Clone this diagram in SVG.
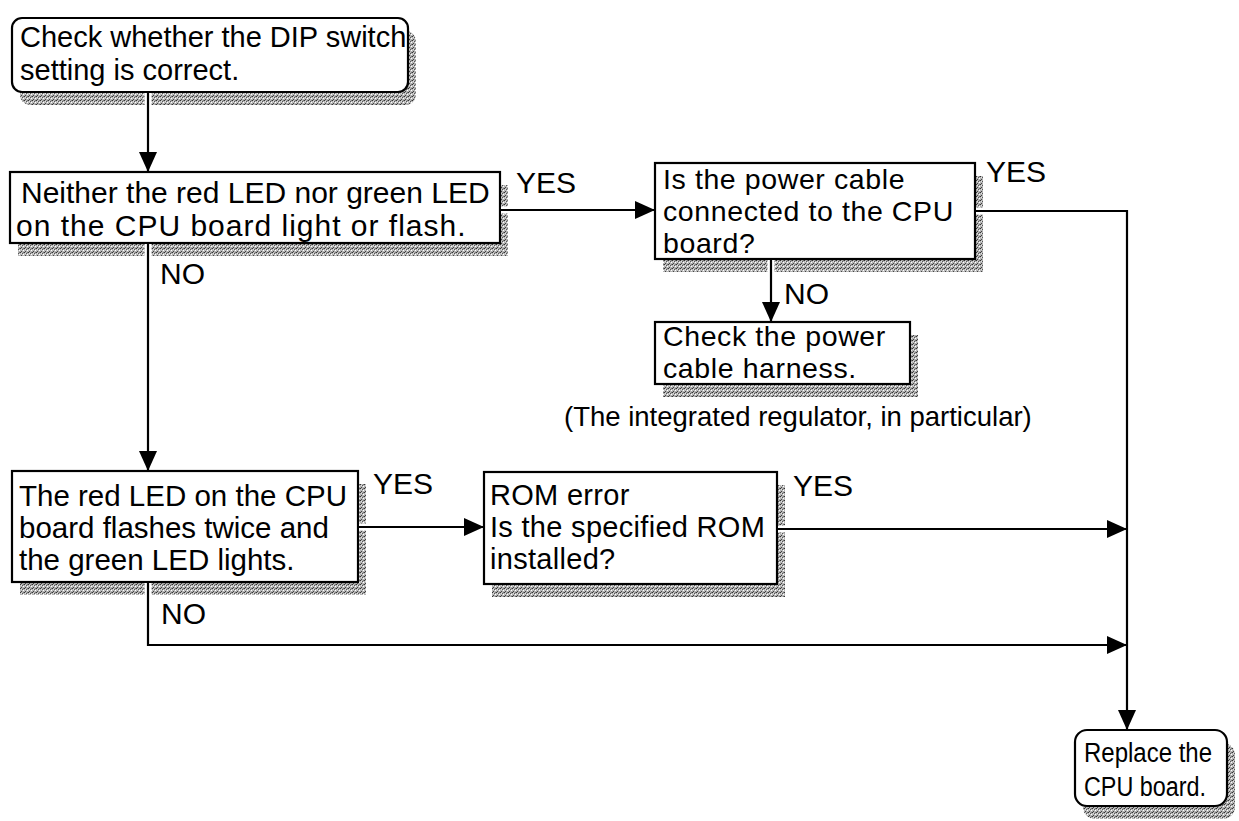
<svg xmlns="http://www.w3.org/2000/svg" width="1239" height="821" viewBox="0 0 1239 821">
<style>
.box{fill:#fff;stroke:#000;stroke-width:2.2}
.sh{fill:url(#stip)}
.t{font-family:"Liberation Sans",Arial,Helvetica,sans-serif;font-size:30px;fill:#000}
.ln{fill:none;stroke:#000;stroke-width:2.2}
.gap{fill:none;stroke:#fff;stroke-width:7}
.arr{marker-end:url(#ah)}
</style>
<defs>
<pattern id="stip" width="4" height="4" patternUnits="userSpaceOnUse">
<rect width="4" height="4" fill="#b5b5b5"/>
<rect x="0" y="0" width="1" height="1" fill="#333"/>
<rect x="2" y="1" width="1" height="1" fill="#555"/>
<rect x="1" y="3" width="1" height="1" fill="#444"/>
<rect x="3" y="2" width="1" height="1" fill="#fff"/>
<rect x="3" y="0" width="1" height="1" fill="#777"/>
<rect x="1" y="1" width="1" height="1" fill="#e0e0e0"/>
</pattern>
<marker id="ah" markerUnits="userSpaceOnUse" markerWidth="20" markerHeight="18" refX="20" refY="9" orient="auto">
<path d="M0,0 L20,9 L0,18 z" fill="#000"/>
</marker>
</defs>
<rect width="1239" height="821" fill="#fff"/>

<g id="node-dip">
<rect class="sh" x="20" y="31" width="396" height="74" rx="10"/>
<rect class="box" x="12" y="18" width="396" height="74" rx="10"/>
<text class="t" style="font-size:29px"><tspan x="20" y="47">Check whether the DIP switch</tspan><tspan x="20" y="80">setting is correct.</tspan></text>
</g>

<g id="node-neither">
<rect class="sh" x="18" y="185" width="490" height="71"/>
<rect class="box" x="10" y="172" width="490" height="71"/>
<text class="t"><tspan x="21" y="203">Neither the red LED nor green LED</tspan><tspan x="16" y="236" style="letter-spacing:1px">on the CPU board light or flash.</tspan></text>
</g>

<g id="node-power">
<rect class="sh" x="663" y="176" width="320" height="96"/>
<rect class="box" x="655" y="163" width="320" height="96"/>
<text class="t" style="font-size:28.5px;letter-spacing:0.6px"><tspan x="663" y="189">Is the power cable</tspan><tspan x="663" y="221">connected to the CPU</tspan><tspan x="663" y="253">board?</tspan></text>
</g>

<g id="node-harness">
<rect class="sh" x="663" y="335" width="255" height="62"/>
<rect class="box" x="655" y="322" width="255" height="62"/>
<text class="t" style="font-size:28.5px;letter-spacing:0.6px"><tspan x="663" y="346">Check the power</tspan><tspan x="663" y="378">cable harness.</tspan></text>
</g>

<g id="note">
<text class="t" x="564" y="426" style="font-size:27.5px">(The integrated regulator, in particular)</text>
</g>

<g id="node-redled">
<rect class="sh" x="20" y="484" width="346" height="111"/>
<rect class="box" x="12" y="471" width="346" height="111"/>
<text class="t" style="font-size:29.5px"><tspan x="19" y="506">The red LED on the CPU</tspan><tspan x="19" y="538">board flashes twice and</tspan><tspan x="19" y="570">the green LED lights.</tspan></text>
</g>

<g id="node-rom">
<rect class="sh" x="492" y="485" width="293" height="112"/>
<rect class="box" x="484" y="472" width="293" height="112"/>
<text class="t" style="font-size:29px;letter-spacing:0.3px"><tspan x="490" y="505">ROM error</tspan><tspan x="490" y="537">Is the specified ROM</tspan><tspan x="490" y="569">installed?</tspan></text>
</g>

<g id="node-replace">
<rect class="sh" x="1083" y="743" width="152" height="76" rx="12"/>
<rect class="box" x="1075" y="730" width="152" height="76" rx="12"/>
<text class="t" x="1084" y="762" style="font-size:27px" textLength="128" lengthAdjust="spacingAndGlyphs">Replace the</text>
<text class="t" x="1084" y="796" style="font-size:27px" textLength="122" lengthAdjust="spacingAndGlyphs">CPU board.</text>
</g>

<g id="connectors">
<line class="gap" x1="148" y1="93" x2="148" y2="160"/>
<line class="gap" x1="501" y1="210" x2="640" y2="210"/>
<line class="gap" x1="148" y1="244" x2="148" y2="450"/>
<line class="gap" x1="771" y1="260" x2="771" y2="305"/>
<line class="gap" x1="976" y1="211" x2="1100" y2="211"/>
<line class="gap" x1="359" y1="527" x2="460" y2="527"/>
<line class="gap" x1="778" y1="529" x2="1100" y2="529"/>
<line class="gap" x1="148" y1="583" x2="148" y2="640"/>
<line class="ln arr" x1="148" y1="92" x2="148" y2="172"/>
<line class="ln arr" x1="500" y1="210" x2="655" y2="210"/>
<line class="ln arr" x1="148" y1="243" x2="148" y2="471"/>
<line class="ln arr" x1="771" y1="259" x2="771" y2="322"/>
<polyline class="ln arr" points="975,211 1127,211 1127,730"/>
<line class="ln arr" x1="358" y1="527" x2="484" y2="527"/>
<line class="ln arr" x1="777" y1="529" x2="1127" y2="529"/>
<polyline class="ln arr" points="148,582 148,645 1127,645"/>
<text class="t" x="516" y="193">YES</text>
<text class="t" x="986" y="182">YES</text>
<text class="t" x="160" y="284">NO</text>
<text class="t" x="784" y="304">NO</text>
<text class="t" x="373" y="494">YES</text>
<text class="t" x="793" y="496">YES</text>
<text class="t" x="161" y="624">NO</text>
</g>
</svg>
